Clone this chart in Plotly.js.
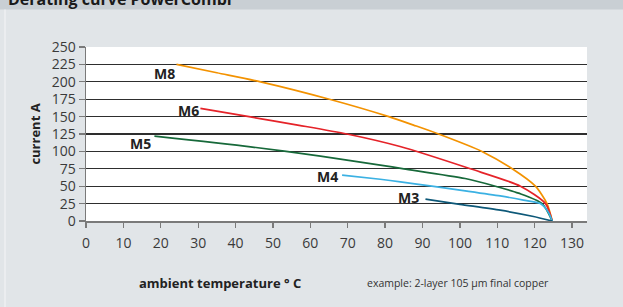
<!DOCTYPE html>
<html>
<head>
<meta charset="utf-8">
<script src="https://cdn.plot.ly/plotly-3.0.1.min.js"></script>
<style>html,body{margin:0;padding:0;background:#e1e5e8;}#chart{width:623px;height:307px;}</style>
</head>
<body>
<div id="chart"></div>
<script>
// ---- data ----
const seriesNames = ["M8", "M6", "M5", "M4", "M3"];
const m8Temp = [24.2, 35, 46.7, 65.1, 81, 87.6, 94.3, 105.9, 114, 120.2, 123.3, 124.7];
const m8Amp  = [225, 213, 200, 175, 150, 137.8, 125, 100, 75, 50, 25, 0];
const m6Temp = [30.6, 44, 57, 69.8, 84, 102.8, 116.2, 122.9, 124.7];
const m6Amp  = [161.8, 149.5, 137.5, 125, 107, 75, 50, 25, 0];
const m5Temp = [18.3, 44, 62.7, 78.7, 85, 101.4, 109.5, 115.7, 122, 124.7];
const m5Amp  = [122, 106.6, 93.2, 80.3, 75, 61, 50, 40, 25, 0];
const m4Temp = [68.5, 78.7, 84.1, 92.5, 101.9, 110.8, 117, 121.5, 123.5, 124.7];
const m4Amp  = [66, 60, 56.3, 50, 43, 36, 30, 25, 14, 0];
const m3Temp = [90.8, 100, 110.8, 119.7, 124.7];
const m3Amp  = [31.5, 24, 15.5, 6.5, 0];
const xTicks = [0, 10, 20, 30, 40, 50, 60, 70, 80, 90, 100, 110, 120, 130];
const yTicks = [0, 25, 50, 75, 100, 125, 150, 175, 200, 225, 250];

const seriesX = [m8Temp, m6Temp, m5Temp, m4Temp, m3Temp];
const seriesY = [m8Amp, m6Amp, m5Amp, m4Amp, m3Amp];
const colors = ["#f39200", "#e52329", "#17693a", "#3bb1e3", "#0d5878"];

const traces = seriesNames.map((n, i) => ({
  x: seriesX[i], y: seriesY[i], name: n, type: "scatter", mode: "lines",
  line: {color: colors[i], width: 1.7, shape: "spline", smoothing: 0.7},
  hoverinfo: "skip"
}));

// layout geometry (pixels)
const L = 85.5, R = 36.3, T = 46.9, B = 86.1;
const W = 623, H = 307;
const pw = W - L - R, ph = H - T - B;
const px = v => (v - L) / pw;          // pixel x -> paper
const py = v => (H - B - v) / ph;      // pixel y -> paper

const labelPos = [[21, 212], [27.4, 159.3], [14.6, 111.5], [64.5, 63.5], [86.3, 34]];
const annotations = seriesNames.map((n, i) => ({
  x: labelPos[i][0], y: labelPos[i][1], xref: "x", yref: "y", text: n, showarrow: false,
  font: {family: "Open Sans", size: 14, color: "#222", weight: "bold"},
  xanchor: "center", yanchor: "middle"
}));
annotations.push(
  {x: px(5), y: py(-1.5), xref: "paper", yref: "paper", text: "<b>Derating curve PowerCombi</b>",
   showarrow: false, xanchor: "left", yanchor: "middle",
   font: {family: "Open Sans", size: 16, color: "#1a1a1a"}},
  {x: px(35), y: py(134), xref: "paper", yref: "paper", text: "<b>current A</b>", textangle: -90,
   showarrow: false, xanchor: "center", yanchor: "middle",
   font: {family: "Open Sans", size: 13, color: "#222"}},
  {x: px(220), y: py(283), xref: "paper", yref: "paper", text: "<b>ambient temperature ° C</b>",
   showarrow: false, xanchor: "center", yanchor: "middle",
   font: {family: "Open Sans", size: 13, color: "#222"}},
  {x: px(458), y: py(283), xref: "paper", yref: "paper", text: "example: 2-layer 105 µm final copper",
   showarrow: false, xanchor: "center", yanchor: "middle",
   font: {family: "Open Sans", size: 10.5, color: "#333"}}
);

const layout = {
  width: W, height: H,
  margin: {l: L, r: R, t: T, b: B, pad: 0},
  paper_bgcolor: "#e1e5e8", plot_bgcolor: "#ffffff",
  showlegend: false,
  font: {family: "Open Sans", color: "#3a3a3a"},
  xaxis: {
    range: [0, 134], tickvals: xTicks, ticktext: xTicks.map(String),
    showgrid: false, zeroline: false, showline: true, linecolor: "#7a7a7a", linewidth: 2,
    ticks: "outside", ticklen: 5, tickcolor: "#7a7a7a", tickwidth: 1.3,
    tickfont: {family: "Open Sans", size: 14, color: "#3a3a3a"}, ticklabelstandoff: 3,
    fixedrange: true
  },
  yaxis: {
    range: [0, 250], tickvals: yTicks, ticktext: yTicks.map(String),
    showgrid: true, gridcolor: "#2e2e2e", gridwidth: 1.2, zeroline: false,
    showline: true, linecolor: "#7a7a7a", linewidth: 1.5,
    ticks: "outside", ticklen: 6, tickcolor: "#7a7a7a", tickwidth: 1.3,
    tickfont: {family: "Open Sans", size: 14, color: "#3a3a3a"},
    fixedrange: true
  },
  shapes: [
    {type: "rect", xref: "paper", yref: "paper", x0: px(-2), x1: px(W + 2), y0: py(9.5), y1: py(-2),
     fillcolor: "#c9cfd4", line: {width: 0}, layer: "below"},
    {type: "line", xref: "paper", yref: "paper", x0: px(4.5), x1: px(4.5), y0: py(9.5), y1: py(H + 2),
     line: {color: "#eef0f2", width: 1.5}, layer: "below"}
  ],
  annotations: annotations
};

Plotly.newPlot("chart", traces, layout, {staticPlot: true, displayModeBar: false});
</script>
</body>
</html>
